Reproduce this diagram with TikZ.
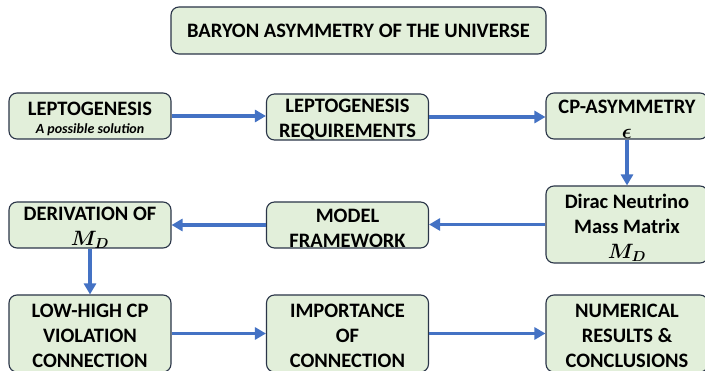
\documentclass[tikz,border=0pt]{standalone}
\usepackage{amsmath}
\usepackage{fontspec}
\setmainfont{Carlito}
\usetikzlibrary{arrows.meta}
\definecolor{boxfill}{HTML}{E2EFDA}
\definecolor{boxline}{HTML}{2A3548}
\definecolor{arrblue}{HTML}{4472C4}
\begin{document}
\begin{tikzpicture}[x=1pt,y=-1pt,
  box/.style={draw=boxline, fill=boxfill, rounded corners=8pt, line width=1.1pt,
    minimum width=162pt, inner sep=0pt},
  txt/.style={align=center, inner sep=0pt,
    font=\bfseries\fontsize{20.5}{25}\selectfont},
  arr/.style={draw=arrblue, line width=3.3pt, -{Triangle[length=11pt,width=12pt]}}]
\useasboundingbox (0,0) rectangle (705,371);
\fill[white] (0,0) rectangle (705,371);
\clip (0,0) rectangle (705,371);
% boxes
\node[box, minimum width=375pt, minimum height=47pt] (title) at (358.5,30.5) {};
\node[box, minimum height=46pt] (lepto) at (90,116) {};
\node[box, minimum height=46pt] (req) at (347.5,117) {};
\node[box, minimum height=46pt] (cp) at (627,116) {};
\node[box, minimum height=77pt] (dirac) at (627,224.5) {};
\node[box, minimum height=46pt] (model) at (347.5,225) {};
\node[box, minimum height=46pt] (deriv) at (90,225) {};
\node[box, minimum height=77pt] (low) at (90,333.5) {};
\node[box, minimum height=77pt] (imp) at (347.5,333.5) {};
\node[box, minimum height=77pt] (num) at (627,333.5) {};
% texts
\node[txt] (titlet) at (title.center) {BARYON ASYMMETRY OF THE UNIVERSE};
\node[txt] (leptot) at ([yshift=-2.5pt]lepto.center) {LEPTOGENESIS\\[-7pt]{\itshape\fontsize{14}{16}\selectfont A possible solution}};
\node[txt] (reqt) at ([yshift=-3pt]req.center) {LEPTOGENESIS\\REQUIREMENTS};
\node[txt] (cpt) at ([yshift=-3pt]cp.center) {CP-ASYMMETRY\\$\boldsymbol{\epsilon}$};
\node[txt] (dirt) at ([yshift=-3pt]dirac.center) {Dirac Neutrino\\Mass Matrix\\$\boldsymbol{M_D}$};
\node[txt] (modelt) at ([yshift=-3pt]model.center) {MODEL\\FRAMEWORK};
\node[txt] (derivt) at ([yshift=-3pt]deriv.center) {DERIVATION OF\\$\boldsymbol{M_D}$};
\node[txt] (lowt) at ([yshift=-2pt]low.center) {LOW-HIGH CP\\VIOLATION\\CONNECTION};
\node[txt] (impt) at ([yshift=-2pt]imp.center) {IMPORTANCE\\OF\\CONNECTION};
\node[txt] (numt) at ([yshift=-2pt]num.center) {NUMERICAL\\RESULTS \&\\CONCLUSIONS};
% arrows
\draw[arr] (lepto.east) -- (lepto.east -| req.west);
\draw[arr] (req.east) -- (req.east -| cp.west);
\draw[arr] (cp.south) -- (dirac.north);
\draw[arr] (dirac.west) -- (dirac.west -| model.east);
\draw[arr] (model.west) -- (deriv.east);
\draw[arr] (deriv.south) -- (low.north);
\draw[arr] (low.east) -- (imp.west);
\draw[arr] (imp.east) -- (num.west);
\end{tikzpicture}
\end{document}
